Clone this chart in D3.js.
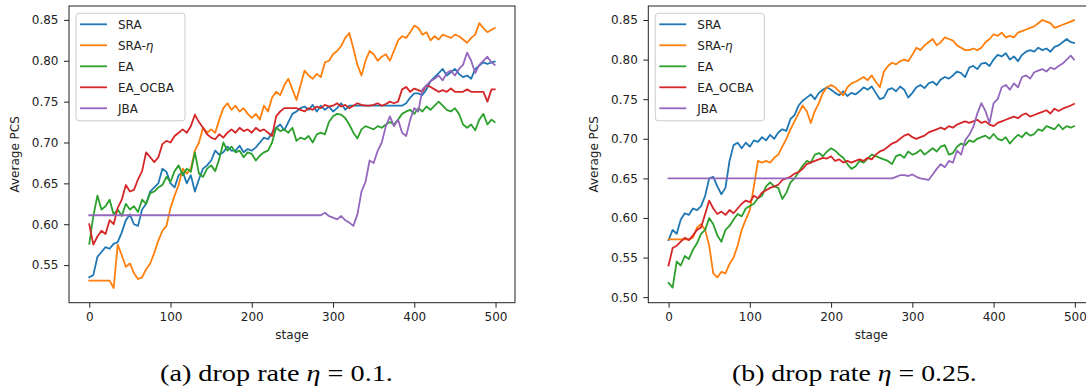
<!DOCTYPE html>
<html><head><meta charset="utf-8">
<script src="https://cdn.jsdelivr.net/npm/d3@7"></script>
<style>html,body{margin:0;padding:0;background:#fff;overflow:hidden}</style>
</head><body>
<svg id="c" width="1086" height="389" style="display:block;background:#fff"></svg>
<script>
// ---------------- data ----------------
const STAGES = d3.range(0, 500, 5).concat([499]);
const SERIES_NAMES = ["SRA", "SRA-η", "EA", "EA_OCBA", "JBA"];
const COLORS = ["#1f77b4", "#ff7f0e", "#2ca02c", "#d62728", "#9467bd"];
const X_TICKS = [0, 100, 200, 300, 400, 500];
const Y_TICKS_A = [0.55, 0.60, 0.65, 0.70, 0.75, 0.80, 0.85];
const Y_TICKS_B = [0.50, 0.55, 0.60, 0.65, 0.70, 0.75, 0.80, 0.85];
const X_LABEL = "stage";
const Y_LABEL = "Average PCS";
const CAPTION_A = ["(a) drop rate ", "η", " = 0.1."];
const CAPTION_B = ["(b) drop rate ", "η", " = 0.25."];

// (a) drop rate 0.1
const SRA_A = [
0.535,0.538,0.560,0.566,0.572,0.570,0.576,0.578,0.590,0.605,
0.612,0.600,0.598,0.618,0.625,0.640,0.645,0.650,0.668,0.664,
0.650,0.645,0.660,0.664,0.650,0.660,0.640,0.655,0.668,0.672,
0.678,0.690,0.685,0.688,0.695,0.690,0.690,0.696,0.688,0.692,
0.690,0.694,0.700,0.706,0.704,0.712,0.718,0.722,0.715,0.725,
0.735,0.738,0.742,0.744,0.740,0.746,0.738,0.745,0.740,0.744,
0.738,0.742,0.748,0.740,0.745,0.745,0.745,0.745,0.745,0.745,
0.745,0.745,0.745,0.745,0.745,0.745,0.745,0.745,0.748,0.755,
0.760,0.760,0.758,0.765,0.775,0.780,0.785,0.790,0.782,0.786,
0.790,0.784,0.780,0.782,0.778,0.790,0.794,0.798,0.796,0.798,
0.799];
const SRAETA_A = [
0.531,0.531,0.531,0.531,0.531,0.531,0.522,0.575,0.562,0.548,
0.552,0.540,0.533,0.535,0.545,0.552,0.565,0.580,0.592,0.598,
0.620,0.635,0.648,0.668,0.662,0.668,0.690,0.700,0.718,0.712,
0.716,0.712,0.728,0.742,0.748,0.740,0.745,0.738,0.742,0.735,
0.730,0.735,0.728,0.745,0.738,0.755,0.762,0.758,0.770,0.778,
0.765,0.752,0.770,0.788,0.782,0.778,0.784,0.780,0.798,0.800,
0.808,0.812,0.818,0.828,0.834,0.815,0.795,0.782,0.800,0.812,
0.808,0.800,0.805,0.808,0.800,0.812,0.825,0.830,0.828,0.835,
0.843,0.840,0.832,0.835,0.825,0.830,0.826,0.832,0.830,0.828,
0.832,0.830,0.826,0.822,0.828,0.832,0.846,0.840,0.835,0.838,
0.840];
const EA_A = [
0.576,0.610,0.635,0.618,0.622,0.630,0.612,0.618,0.610,0.625,
0.618,0.622,0.615,0.630,0.625,0.638,0.640,0.645,0.648,0.658,
0.652,0.665,0.672,0.660,0.668,0.664,0.688,0.662,0.658,0.668,
0.672,0.665,0.680,0.700,0.690,0.695,0.688,0.690,0.682,0.688,
0.686,0.678,0.684,0.688,0.690,0.700,0.718,0.714,0.716,0.712,
0.718,0.702,0.706,0.704,0.708,0.700,0.710,0.712,0.710,0.725,
0.732,0.735,0.734,0.730,0.722,0.712,0.705,0.716,0.720,0.718,
0.716,0.720,0.718,0.722,0.725,0.722,0.728,0.735,0.738,0.740,
0.735,0.742,0.738,0.744,0.740,0.745,0.750,0.745,0.740,0.738,
0.742,0.735,0.722,0.718,0.722,0.715,0.728,0.735,0.722,0.728,
0.725];
const EAOCBA_A = [
0.600,0.575,0.585,0.592,0.588,0.605,0.600,0.620,0.630,0.648,
0.640,0.642,0.655,0.665,0.688,0.682,0.676,0.682,0.698,0.702,
0.700,0.708,0.712,0.716,0.712,0.720,0.734,0.725,0.718,0.710,
0.706,0.704,0.710,0.706,0.712,0.716,0.712,0.718,0.714,0.716,
0.712,0.718,0.714,0.716,0.712,0.708,0.732,0.738,0.742,0.742,
0.742,0.742,0.740,0.738,0.742,0.740,0.744,0.742,0.746,0.744,
0.745,0.748,0.744,0.746,0.742,0.745,0.748,0.746,0.745,0.745,
0.746,0.748,0.745,0.747,0.750,0.748,0.750,0.765,0.768,0.762,
0.766,0.764,0.762,0.770,0.768,0.765,0.762,0.764,0.762,0.766,
0.762,0.762,0.762,0.765,0.762,0.762,0.762,0.762,0.750,0.765,
0.765];
const JBA_A = [
0.611,0.611,0.611,0.611,0.611,0.611,0.611,0.611,0.611,0.611,
0.611,0.611,0.611,0.611,0.611,0.611,0.611,0.611,0.611,0.611,
0.611,0.611,0.611,0.611,0.611,0.611,0.611,0.611,0.611,0.611,
0.611,0.611,0.611,0.611,0.611,0.611,0.611,0.611,0.611,0.611,
0.611,0.611,0.611,0.611,0.611,0.611,0.611,0.611,0.611,0.611,
0.611,0.611,0.611,0.611,0.611,0.611,0.611,0.611,0.614,0.610,
0.608,0.606,0.610,0.605,0.602,0.598,0.612,0.640,0.652,0.678,
0.675,0.690,0.700,0.720,0.732,0.720,0.728,0.712,0.708,0.728,
0.742,0.738,0.765,0.770,0.775,0.778,0.782,0.776,0.785,0.788,
0.782,0.790,0.795,0.810,0.800,0.785,0.795,0.800,0.805,0.798,
0.795];

// (b) drop rate 0.25
const SRA_B = [
0.572,0.585,0.580,0.598,0.606,0.604,0.612,0.610,0.615,0.628,
0.650,0.652,0.640,0.630,0.638,0.672,0.692,0.695,0.688,0.695,
0.690,0.698,0.696,0.702,0.698,0.705,0.700,0.708,0.712,0.710,
0.725,0.730,0.742,0.748,0.752,0.756,0.750,0.758,0.762,0.765,
0.762,0.758,0.755,0.760,0.754,0.758,0.756,0.760,0.765,0.762,
0.766,0.758,0.750,0.752,0.762,0.764,0.760,0.766,0.762,0.752,
0.758,0.765,0.768,0.764,0.770,0.772,0.768,0.775,0.778,0.776,
0.780,0.785,0.783,0.778,0.790,0.792,0.788,0.795,0.796,0.792,
0.800,0.806,0.804,0.808,0.800,0.804,0.798,0.806,0.810,0.812,
0.810,0.815,0.812,0.814,0.810,0.816,0.818,0.822,0.826,0.822,
0.821];
const SRAETA_B = [
0.573,0.573,0.573,0.573,0.573,0.573,0.575,0.588,0.592,0.585,
0.565,0.530,0.525,0.532,0.530,0.542,0.550,0.565,0.585,0.598,
0.610,0.640,0.672,0.670,0.672,0.670,0.676,0.680,0.690,0.700,
0.712,0.722,0.732,0.742,0.735,0.720,0.735,0.745,0.758,0.765,
0.768,0.765,0.760,0.755,0.765,0.770,0.772,0.775,0.778,0.774,
0.780,0.772,0.765,0.785,0.792,0.796,0.794,0.798,0.800,0.798,
0.806,0.815,0.812,0.818,0.822,0.826,0.818,0.822,0.828,0.826,
0.824,0.818,0.815,0.812,0.812,0.814,0.812,0.815,0.822,0.826,
0.832,0.830,0.834,0.828,0.830,0.828,0.834,0.836,0.838,0.840,
0.842,0.846,0.850,0.848,0.846,0.840,0.842,0.844,0.846,0.848,
0.850];
const EA_B = [
0.518,0.512,0.545,0.540,0.552,0.548,0.560,0.568,0.580,0.585,
0.600,0.592,0.578,0.570,0.585,0.590,0.598,0.605,0.602,0.612,
0.615,0.618,0.625,0.628,0.640,0.645,0.640,0.638,0.624,0.632,
0.645,0.650,0.658,0.666,0.672,0.670,0.680,0.682,0.678,0.684,
0.688,0.685,0.680,0.676,0.668,0.662,0.665,0.672,0.670,0.675,
0.680,0.678,0.676,0.674,0.672,0.668,0.678,0.680,0.676,0.684,
0.680,0.682,0.686,0.680,0.684,0.688,0.684,0.690,0.692,0.680,
0.682,0.690,0.694,0.692,0.698,0.696,0.700,0.702,0.704,0.700,
0.706,0.700,0.698,0.702,0.694,0.700,0.705,0.702,0.708,0.704,
0.706,0.712,0.710,0.716,0.714,0.712,0.718,0.712,0.716,0.714,
0.716];
const EAOCBA_B = [
0.540,0.562,0.565,0.570,0.575,0.572,0.578,0.585,0.588,0.605,
0.622,0.612,0.605,0.608,0.604,0.610,0.606,0.612,0.618,0.622,
0.620,0.628,0.625,0.632,0.635,0.638,0.640,0.642,0.648,0.650,
0.652,0.656,0.658,0.662,0.668,0.670,0.672,0.674,0.676,0.675,
0.678,0.672,0.674,0.670,0.672,0.670,0.672,0.674,0.672,0.676,
0.674,0.680,0.684,0.686,0.690,0.694,0.696,0.700,0.704,0.706,
0.702,0.700,0.702,0.704,0.708,0.710,0.712,0.714,0.712,0.716,
0.714,0.718,0.720,0.722,0.720,0.722,0.724,0.720,0.722,0.718,
0.716,0.720,0.722,0.724,0.726,0.728,0.726,0.730,0.732,0.728,
0.730,0.732,0.734,0.736,0.732,0.738,0.735,0.738,0.740,0.742,
0.744];
const JBA_B = [
0.650,0.650,0.650,0.650,0.650,0.650,0.650,0.650,0.650,0.650,
0.650,0.650,0.650,0.650,0.650,0.650,0.650,0.650,0.650,0.650,
0.650,0.650,0.650,0.650,0.650,0.650,0.650,0.650,0.650,0.650,
0.650,0.650,0.650,0.650,0.650,0.650,0.650,0.650,0.650,0.650,
0.650,0.650,0.650,0.650,0.650,0.650,0.650,0.650,0.650,0.650,
0.650,0.650,0.650,0.650,0.650,0.650,0.652,0.654,0.654,0.653,
0.655,0.652,0.650,0.649,0.648,0.655,0.662,0.668,0.664,0.672,
0.670,0.685,0.680,0.698,0.705,0.715,0.732,0.745,0.735,0.720,
0.745,0.750,0.765,0.768,0.762,0.770,0.765,0.778,0.780,0.776,
0.784,0.786,0.788,0.785,0.790,0.788,0.792,0.795,0.800,0.805,
0.800];

// ---------------- drawing ----------------
const svg = d3.select("#c");
const FONT = "'DejaVu Sans', sans-serif";

function panel(cfg) {
  const {left, top, width, height, yDomain, yTicks, series, caption, captionX0, captionX1} = cfg;
  const g = svg.append("g");
  const x = d3.scaleLinear().domain([-24.95, 523.95]).range([left, left + width]);
  const y = d3.scaleLinear().domain(yDomain).range([top + height, top]);

  const clipId = "clip" + Math.round(left);
  svg.append("clipPath").attr("id", clipId).append("rect")
    .attr("x", left).attr("y", top).attr("width", width).attr("height", height);
  const line = d3.line().x((d, i) => x(STAGES[i])).y(d => y(d));
  const lg = g.append("g").attr("clip-path", `url(#${clipId})`);
  series.forEach((s, k) => {
    lg.append("path").attr("d", line(s)).attr("fill", "none")
      .attr("stroke", COLORS[k]).attr("stroke-width", 1.8)
      .attr("stroke-linejoin", "round").attr("stroke-linecap", "square");
  });

  g.append("rect").attr("x", left).attr("y", top).attr("width", width).attr("height", height)
    .attr("fill", "none").attr("stroke", "#222").attr("stroke-width", 1);

  const ax = g.append("g").attr("transform", `translate(0,${top + height})`)
    .call(d3.axisBottom(x).tickValues(X_TICKS).tickFormat(d3.format("d")).tickSize(5).tickPadding(5));
  const ay = g.append("g").attr("transform", `translate(${left},0)`)
    .call(d3.axisLeft(y).tickValues(yTicks).tickFormat(d3.format(".2f")).tickSize(5).tickPadding(5.5));
  [ax, ay].forEach(a => {
    a.select(".domain").remove();
    a.selectAll("line").attr("stroke", "#222");
    a.selectAll("text").attr("font-family", FONT).attr("font-size", 12).attr("fill", "#222");
  });

  g.append("text").attr("x", left + width / 2).attr("y", top + height + 36.5)
    .attr("text-anchor", "middle").attr("font-family", FONT).attr("font-size", 12).attr("fill", "#222")
    .text(X_LABEL);
  g.append("text").attr("transform", `translate(${left - 50},${top + height / 2}) rotate(-90)`)
    .attr("text-anchor", "middle").attr("font-family", FONT).attr("font-size", 12).attr("fill", "#222")
    .text(Y_LABEL);

  const lgx = left + 7, lgy = top + 7.3;
  g.append("rect").attr("x", lgx).attr("y", lgy).attr("width", 109).attr("height", 107.5)
    .attr("rx", 3).attr("fill", "#fff").attr("fill-opacity", 0.8)
    .attr("stroke", "#cccccc").attr("stroke-width", 1);
  SERIES_NAMES.forEach((name, k) => {
    const cy = lgy + 11 + k * 21;
    g.append("line").attr("x1", lgx + 4).attr("x2", lgx + 31).attr("y1", cy).attr("y2", cy)
      .attr("stroke", COLORS[k]).attr("stroke-width", 1.8);
    const t = g.append("text").attr("x", lgx + 42).attr("y", cy + 4.3)
      .attr("font-family", FONT).attr("font-size", 12).attr("fill", "#222");
    if (name.includes("η")) {
      t.append("tspan").text(name.replace("η", ""));
      t.append("tspan").attr("font-style", "italic").text("η");
    } else t.text(name);
  });

  const cg = svg.append("g");
  const ct = cg.append("text").attr("x", 0).attr("y", 0)
    .attr("font-family", "'Liberation Serif', 'Times New Roman', serif").attr("font-size", 23).attr("fill", "#000");
  ct.append("tspan").text(caption[0]);
  ct.append("tspan").attr("font-style", "italic").text(caption[1]);
  ct.append("tspan").text(caption[2]);
  const w = ct.node().getComputedTextLength();
  const sx = (captionX1 - captionX0) / w;
  cg.attr("transform", `translate(${captionX0},381) scale(${sx},1)`);
}

panel({left: 69, top: 6, width: 446, height: 296.7, yDomain: [0.504, 0.867], yTicks: Y_TICKS_A,
  series: [SRA_A, SRAETA_A, EA_A, EAOCBA_A, JBA_A], caption: CAPTION_A, captionX0: 160, captionX1: 393});
panel({left: 648.3, top: 6, width: 446, height: 296.7, yDomain: [0.493, 0.8677], yTicks: Y_TICKS_B,
  series: [SRA_B, SRAETA_B, EA_B, EAOCBA_B, JBA_B], caption: CAPTION_B, captionX0: 732, captionX1: 977});
</script>
</body></html>
